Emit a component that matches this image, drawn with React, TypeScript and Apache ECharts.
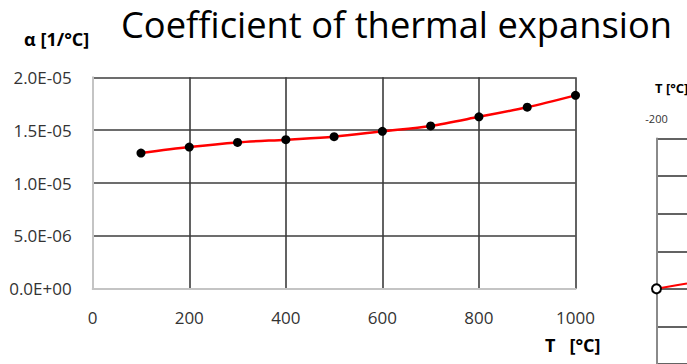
import React, { useEffect, useRef } from "react";
import * as echarts from "echarts";

const temps = [100, 200, 300, 400, 500, 600, 700, 800, 900, 1000];
const alphaValues = [1.283e-5, 1.34e-5, 1.384e-5, 1.41e-5, 1.438e-5, 1.489e-5, 1.54e-5, 1.626e-5, 1.717e-5, 1.829e-5];
const xTicks = [0, 200, 400, 600, 800, 1000];
const yTicks = [0, 5e-6, 1e-5, 1.5e-5, 2e-5];

// fragment of the neighbouring chart at the right edge
const sideTempTicks = [-200];
const sideSeries = [[-200, 4], [-130, 3.9], [-100, 3.86]];

const titleText = "Coefficient of thermal expansion";
const yName = "α [1/°C]";
const xName = "T   [°C]";
const sideName = "T [°C]";

const FONT = "'Open Sans', 'Noto Sans', sans-serif";

function fmtExp(v: number): string {
  const s = v.toExponential(1);
  const [m, e] = s.split("e");
  const n = parseInt(e, 10);
  const sign = n < 0 ? "-" : "+";
  const abs = Math.abs(n);
  return `${m}E${sign}${abs < 10 ? "0" + abs : abs}`;
}

export default function App() {
  const ref = useRef<HTMLDivElement>(null);
  useEffect(() => {
    if (!ref.current) return;
    const chart = echarts.init(ref.current, undefined, { renderer: "svg" });
    chart.setOption({
      animation: false,
      backgroundColor: "#ffffff",
      textStyle: { fontFamily: FONT },
      title: [
        {
          text: titleText,
          left: 116,
          top: 1,
          textStyle: { fontFamily: FONT, fontSize: 36.3, fontWeight: "normal", color: "#000" },
        },
        {
          text: xName,
          left: 540,
          top: 331,
          textStyle: { fontFamily: FONT, fontSize: 18, fontWeight: "bold", color: "#000" },
        },
        {
          text: sideName,
          left: 650,
          top: 76,
          textStyle: { fontFamily: FONT, fontSize: 13, fontWeight: "bold", color: "#000" },
        },
      ],
      grid: [
        { left: 92.7, top: 77.3, right: 111.5, bottom: 75.3 },
        { left: 656.5, top: 138.5, width: 30.5, height: 231 },
      ],
      xAxis: [
        {
          gridIndex: 0,
          type: "value",
          min: xTicks[0],
          max: xTicks[xTicks.length - 1],
          interval: 200,
          axisLine: { show: true, lineStyle: { color: "#c4c4c4", width: 2 } },
          axisTick: { show: false },
          axisLabel: {
            margin: 20,
            fontSize: 17,
            color: "#333",
            fontFamily: FONT,
            customValues: xTicks,
            formatter: (v: number) => String(v),
          },
          splitLine: { show: true, lineStyle: { color: "#3c3c3c", width: 1.6 } },
        },
        {
          gridIndex: 1,
          type: "value",
          position: "top",
          min: -200,
          max: -100,
          interval: 100,
          axisLine: { show: false },
          axisTick: { show: false },
          axisLabel: {
            margin: 15,
            fontSize: 11,
            color: "#333",
            fontFamily: FONT,
            customValues: sideTempTicks,
            formatter: (v: number) => String(v),
          },
          splitLine: { show: false },
        },
      ],
      yAxis: [
        {
          gridIndex: 0,
          type: "value",
          min: 0,
          max: 2e-5,
          interval: 5e-6,
          name: yName,
          nameLocation: "end",
          nameGap: 29,
          nameTextStyle: {
            fontFamily: FONT,
            fontSize: 18,
            fontWeight: "bold",
            color: "#000",
            align: "center",
            padding: [0, 72, 0, 0],
          },
          axisLine: { show: true, lineStyle: { color: "#c4c4c4", width: 2 } },
          axisTick: { show: false },
          axisLabel: {
            margin: 21,
            fontSize: 17,
            color: "#333",
            fontFamily: FONT,
            customValues: yTicks,
            formatter: (v: number) => fmtExp(v),
          },
          splitLine: { show: true, lineStyle: { color: "#3c3c3c", width: 1.6 } },
        },
        {
          gridIndex: 1,
          type: "value",
          min: 0,
          max: 6,
          interval: 1,
          inverse: true,
          axisLine: { show: true, lineStyle: { color: "#8a8a8a", width: 2 } },
          axisTick: { show: false },
          axisLabel: { show: false },
          splitLine: { show: true, lineStyle: { color: "#3c3c3c", width: 1.6 } },
        },
      ],
      series: [
        {
          type: "line",
          xAxisIndex: 0,
          yAxisIndex: 0,
          data: temps.map((t, i) => [t, alphaValues[i]]),
          smooth: 0.3,
          symbol: "circle",
          symbolSize: 9,
          itemStyle: { color: "#000" },
          lineStyle: { color: "#ff0000", width: 2.5 },
          z: 5,
        },
        {
          type: "line",
          xAxisIndex: 1,
          yAxisIndex: 1,
          data: sideSeries.map((p, i) =>
            i === 0 ? { value: p } : { value: p, symbol: "none" }
          ),
          symbol: "emptyCircle",
          symbolSize: 9,
          itemStyle: { color: "#000", borderWidth: 1.5, borderColor: "#333" },
          lineStyle: { color: "#ff0000", width: 2 },
          clip: false,
          z: 5,
        },
      ],
    });
    return () => chart.dispose();
  }, []);
  return (
    <div
      ref={ref}
      style={{ position: "fixed", left: 0, top: 0, width: 687, height: 364 }}
    />
  );
}
